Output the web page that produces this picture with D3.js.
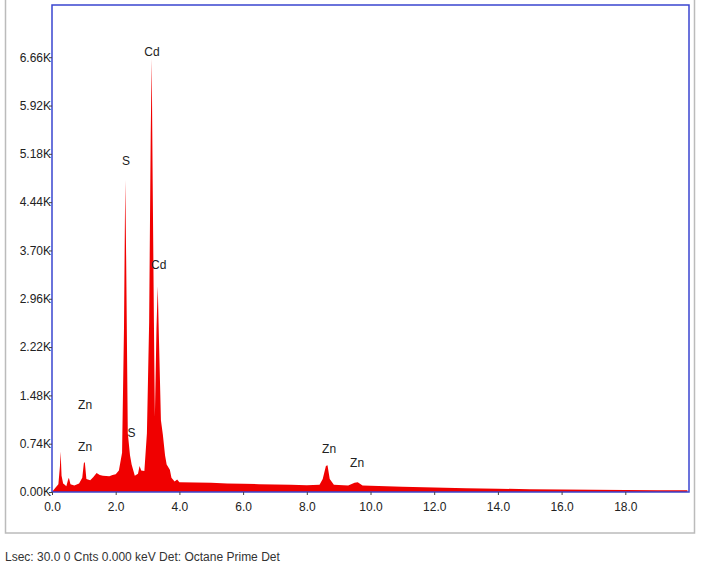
<!DOCTYPE html>
<html lang="en">
<head>
<meta charset="UTF-8">
<title>EDS Spectrum</title>
<script src="https://d3js.org/d3.v7.min.js"></script>
<style>
  body { margin: 0; background: #fff; font-family: 'Liberation Sans Narrow', 'Liberation Sans', sans-serif; }
</style>
</head>
<body>
<svg id="chart" width="701" height="573"></svg>
<script>
// spectrum: energy (keV) and counts
const energy = [0,0.1,0.2,0.25,0.27,0.3,0.35,0.4,0.45,0.5,0.53,0.58,0.7,0.85,0.95,1.0,1.03,1.08,1.2,1.3,1.4,1.5,1.6,1.8,1.9,2.0,2.1,2.2,2.26,2.3,2.33,2.38,2.45,2.5,2.6,2.7,2.75,2.8,2.9,2.98,3.05,3.1,3.13,3.16,3.2,3.23,3.28,3.32,3.36,3.42,3.48,3.55,3.6,3.7,3.75,3.85,3.93,4.0,4.5,5,5.5,6,6.5,7,7.5,8.0,8.4,8.5,8.6,8.65,8.72,8.85,9.3,9.5,9.6,9.75,10,11,12,13,14,15,16,17,18,19,19.95];
const counts = [0,60,120,400,620,250,130,110,90,180,220,120,100,130,220,440,460,200,180,230,290,260,250,240,260,270,330,600,2500,4780,3500,900,560,420,250,280,400,330,320,900,2600,5500,6640,4800,2600,1150,2500,3150,2300,1100,880,560,420,340,220,160,190,150,145,140,130,125,120,115,110,105,110,200,400,410,200,110,100,140,150,100,95,80,70,58,50,44,38,33,30,28,25];

const xTicks = [0, 2, 4, 6, 8, 10, 12, 14, 16, 18];
const yTicks = [0, 740, 1480, 2220, 2960, 3700, 4440, 5180, 5920, 6660];

// peak labels: element, energy, count position of label
const labelNames = ["Cd", "S", "Cd", "Zn", "Zn", "S", "Zn", "Zn"];
const labelE = [3.14, 2.32, 3.35, 1.04, 1.04, 2.5, 8.7, 9.58];
const labelC = [6740, 5080, 3480, 1330, 690, 900, 660, 440];

const svg = d3.select("#chart");
const L = 52, R = 689, T = 5, B = 492;

const x = d3.scaleLinear().domain([0, 20]).range([L, R]);
const y = d3.scaleLinear().domain([0, 7460]).range([B, T]);

// outer frame
svg.append("rect").attr("x", 5.5).attr("y", -2).attr("width", 689).attr("height", 535)
  .attr("fill", "none").attr("stroke", "#bbb").attr("stroke-width", 1.5);

// spectrum
const data = energy.map((e, i) => ({ e: e, c: counts[i] }));
const area = d3.area().x(d => x(d.e)).y0(y(0)).y1(d => y(d.c));
svg.append("path").datum(data).attr("d", area).attr("fill", "#f00000");

// plot border
svg.append("rect").attr("x", L).attr("y", T).attr("width", R - L).attr("height", B - T)
  .attr("fill", "none").attr("stroke", "#3a45d0").attr("stroke-width", 1.5);

// axes
const xAxis = svg.append("g").attr("transform", `translate(0,${B})`)
  .call(d3.axisBottom(x).tickValues(xTicks).tickSize(3).tickFormat(d3.format(".1f")));
const yAxis = svg.append("g").attr("transform", `translate(${L},0)`)
  .call(d3.axisLeft(y).tickValues(yTicks).tickSize(3).tickFormat(d => (d / 1000).toFixed(2) + "K"));
[xAxis, yAxis].forEach(a => {
  a.select(".domain").remove();
  a.selectAll("line").attr("stroke", "#444");
  a.selectAll("text").attr("font-size", 12).attr("fill", "#222")
    .attr("font-family", "'Liberation Sans Narrow', 'Liberation Sans', sans-serif");
});
xAxis.selectAll("text").attr("dy", "1.1em");
yAxis.selectAll("text").attr("x", -1);

// peak labels
svg.selectAll(".pk").data(labelNames).enter().append("text")
  .attr("x", (d, i) => x(labelE[i])).attr("y", (d, i) => y(labelC[i]))
  .attr("dy", "0.35em").attr("text-anchor", "middle")
  .attr("font-size", 12).attr("fill", "#222").text(d => d);

// footer
svg.append("text").attr("x", 5).attr("y", 561).attr("font-size", 12).attr("fill", "#333")
  .text("Lsec: 30.0 0 Cnts  0.000 keV Det: Octane Prime Det");
</script>
</body>
</html>
